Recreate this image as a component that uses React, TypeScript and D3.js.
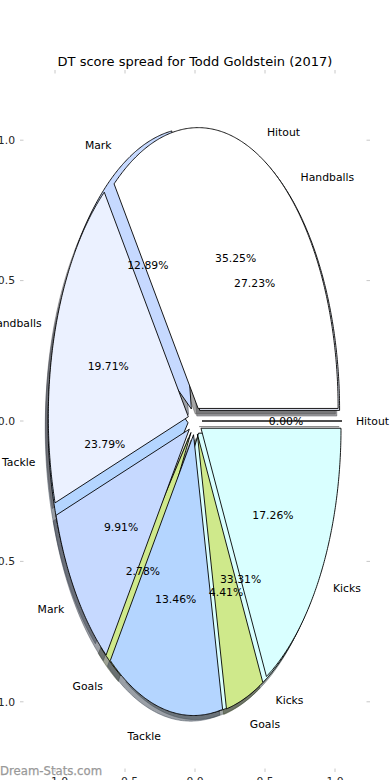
import React from 'react';
import * as d3 from 'd3';

const categories = ['Hitout', 'Handballs', 'Mark', 'Tackle', 'Goals', 'Kicks'];
// drawn first (underneath)
const seriesBack = [0.0, 27.23, 12.89, 23.79, 2.78, 33.31];
// drawn on top
const seriesFront = [35.25, 19.71, 9.91, 13.46, 4.41, 17.26];
const colors = ['#ffffff', '#ebf1ff', '#c6d9ff', '#b4d5ff', '#cfe98b', '#d9ffff'];
const tickValues = [-1, -0.5, 0, 0.5, 1];
const title = 'DT score spread for Todd Goldstein (2017)';
const watermark = 'Dream-Stats.com';

const W = 390;
const H = 780;
const FONT = '"DejaVu Sans", sans-serif';

const x = d3.scaleLinear().domain([-1.25, 1.25]).range([20, 370]);
const y = d3.scaleLinear().domain([-1.25, 1.25]).range([772, 70]);

const pieGen = d3
  .pie<number>()
  .sort(null)
  .value((d) => d)
  .startAngle(Math.PI / 2)
  .endAngle(Math.PI / 2 - 2 * Math.PI);

const EXPLODE = 0.05;
const LABEL_DIST = 1.1;
const PCT_DIST = 0.6;
const SHADOW_OFF = -0.02;

type Wedge = {
  cat: string;
  color: string;
  value: number;
  t1: number;
  t2: number;
  tm: number;
  cx: number;
  cy: number;
};

function buildWedges(values: number[]): Wedge[] {
  const arcs = pieGen(values);
  return arcs.map((a, i) => {
    const t1 = Math.PI / 2 - a.startAngle;
    const t2 = Math.PI / 2 - a.endAngle;
    const tm = (t1 + t2) / 2;
    return {
      cat: categories[i],
      color: colors[i],
      value: values[i],
      t1,
      t2,
      tm,
      cx: EXPLODE * Math.cos(tm),
      cy: EXPLODE * Math.sin(tm),
    };
  });
}

const line = d3
  .line<[number, number]>()
  .x((p) => x(p[0]))
  .y((p) => y(p[1]));

function wedgePath(w: Wedge, off: number): string {
  const pts: [number, number][] = [[w.cx + off, w.cy + off]];
  const n = Math.max(2, Math.ceil((w.t2 - w.t1) / (Math.PI / 360)) + 1);
  for (let k = 0; k < n; k++) {
    const t = w.t1 + ((w.t2 - w.t1) * k) / (n - 1);
    pts.push([w.cx + Math.cos(t) + off, w.cy + Math.sin(t) + off]);
  }
  return (line(pts) || '') + 'Z';
}

function shadowColor(c: string): string {
  const r = d3.rgb(c);
  return d3.rgb(r.r * 0.3, r.g * 0.3, r.b * 0.3).formatHex();
}

const pies = [buildWedges(seriesBack), buildWedges(seriesFront)];
const tickFmt = d3.format('.1f');

export default function App() {
  return (
    <svg
      width={W}
      height={H}
      style={{ position: 'absolute', left: 0, top: 0, background: '#fff' }}
      fontFamily={FONT}
    >
      <rect x={0} y={0} width={W} height={H} fill="#fff" />
      {/* shadows */}
      {pies.map((ws, pi) =>
        ws.map((w, i) => {
          const sc = shadowColor(w.color);
          return (
            <path
              key={`s${pi}-${i}`}
              d={wedgePath(w, SHADOW_OFF)}
              fill={sc}
              fillOpacity={0.5}
              stroke={sc}
              strokeOpacity={0.5}
              strokeWidth={0.9}
            />
          );
        })
      )}
      {/* wedges */}
      {pies.map((ws, pi) =>
        ws.map((w, i) => (
          <path
            key={`w${pi}-${i}`}
            d={wedgePath(w, 0)}
            fill={w.color}
            stroke="#000"
            strokeWidth={0.9}
            strokeLinejoin="miter"
          />
        ))
      )}
      {/* labels */}
      {pies.map((ws, pi) =>
        ws.map((w, i) => {
          const lx = w.cx + LABEL_DIST * Math.cos(w.tm);
          const ly = w.cy + LABEL_DIST * Math.sin(w.tm);
          const px = w.cx + PCT_DIST * Math.cos(w.tm);
          const py = w.cy + PCT_DIST * Math.sin(w.tm);
          return (
            <g key={`t${pi}-${i}`} fontSize={10.8} fill="#000">
              <text
                x={x(lx)}
                y={y(ly)}
                dy="0.36em"
                textAnchor={lx > 0 ? 'start' : 'end'}
              >
                {w.cat}
              </text>
              <text x={x(px)} y={y(py)} dy="0.36em" textAnchor="middle">
                {w.value.toFixed(2) + '%'}
              </text>
            </g>
          );
        })
      )}
      {/* ticks */}
      <g stroke="#c8c8c8" strokeWidth={1}>
        {tickValues.map((t) => (
          <g key={`tk${t}`}>
            <line x1={20} x2={23.5} y1={y(t)} y2={y(t)} />
            <line x1={370} x2={366.5} y1={y(t)} y2={y(t)} />
            <line x1={x(t)} x2={x(t)} y1={70} y2={73.5} />
            <line x1={x(t)} x2={x(t)} y1={772} y2={768.5} />
          </g>
        ))}
      </g>
      <g fontSize={10.8} fill="#262626">
        {tickValues.map((t) => (
          <text key={`yl${t}`} x={15} y={y(t)} dy="0.36em" textAnchor="end">
            {tickFmt(t)}
          </text>
        ))}
        {tickValues.map((t) => (
          <text key={`xl${t}`} x={x(t)} y={785} textAnchor="middle">
            {tickFmt(t)}
          </text>
        ))}
      </g>
      <text x={W / 2} y={66} fontSize={13} textAnchor="middle" fill="#000">
        {title}
      </text>
      <text x={0} y={775} fontSize={11.7} fill="#999999" stroke="#999999" strokeWidth={0.25}>
        {watermark}
      </text>
    </svg>
  );
}
